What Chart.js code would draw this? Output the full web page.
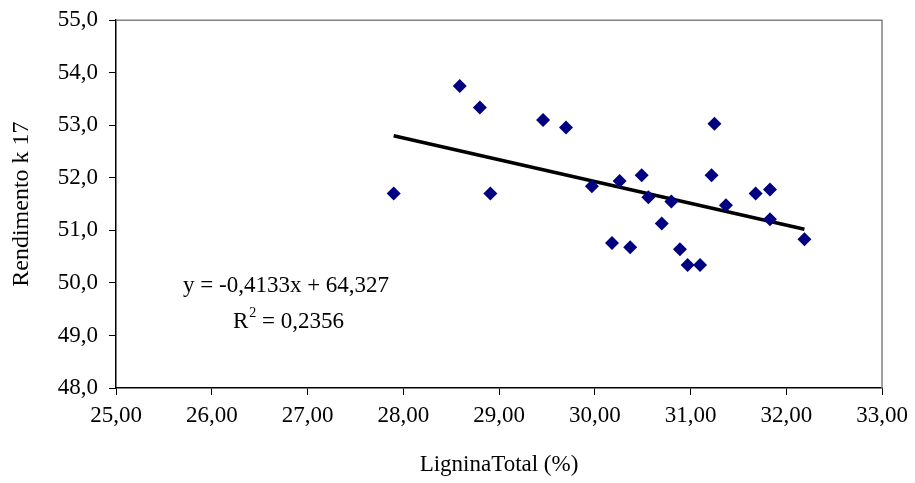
<!DOCTYPE html>
<html>
<head>
<meta charset="utf-8">
<script src="https://cdn.jsdelivr.net/npm/chart.js@4"></script>
<style>
	html, body { margin: 0; padding: 0; background: #fff; }
	#wrap { width: 915px; height: 483px; }
</style>
</head>
<body>
<div id="wrap"><canvas id="chart" width="915" height="483"></canvas></div>
<script>
// valores
const lignina = [27.90, 28.59, 28.80, 28.91, 29.46, 29.70, 29.97, 30.18, 30.26, 30.37, 30.49, 30.56,
	30.70, 30.80, 30.89, 30.97, 31.10, 31.22, 31.25, 31.37, 31.68, 31.83, 31.83, 32.19];
const rendimento = [51.70, 53.75, 53.34, 51.70, 53.10, 52.96, 51.84, 50.76, 51.94, 50.68, 52.05, 51.63,
	51.13, 51.55, 50.64, 50.34, 50.34, 52.05, 53.03, 51.48, 51.70, 51.78, 51.21, 50.83];
// linha de tendência (extremos)
const trendX = [27.90, 32.19];
const trendY = [52.80, 51.02];
const equation = 'y = -0,4133x + 64,327';
const r2 = '0,2356';

const FONT = 'Liberation Serif, Times New Roman, serif';

const points = lignina.map((x, i) => ({ x: x, y: rendimento[i] }));
const trend = trendX.map((x, i) => ({ x: x, y: trendY[i] }));

const frame = {
	id: 'frame',
	afterDraw(chart) {
		const { ctx, chartArea: a } = chart;
		ctx.save();
		ctx.strokeStyle = '#808080';
		ctx.lineWidth = 1.5;
		ctx.beginPath();
		ctx.moveTo(a.left, a.top);
		ctx.lineTo(a.right, a.top);
		ctx.lineTo(a.right, a.bottom);
		ctx.stroke();
		// equação
		ctx.fillStyle = '#000';
		ctx.font = '23px ' + FONT;
		ctx.textBaseline = 'alphabetic';
		ctx.fillText(equation, 183, 292);
		let x = 233;
		ctx.fillText('R', x, 328);
		x += ctx.measureText('R').width;
		ctx.font = '14px ' + FONT;
		ctx.fillText('2', x + 1, 317);
		x += ctx.measureText('2').width + 1;
		ctx.font = '23px ' + FONT;
		ctx.fillText(' = ' + r2, x, 328);
		ctx.restore();
	}
};

new Chart(document.getElementById('chart'), {
	type: 'scatter',
	data: {
		datasets: [
		{
			label: 'Rendimento',
			data: points,
			pointStyle: 'rectRot',
			pointRadius: 7,
			backgroundColor: '#000080',
			borderColor: '#000080',
			borderWidth: 0,
		},
		{
			type: 'line',
			label: 'Tendência',
			data: trend,
			borderColor: '#000',
			borderWidth: 3.5,
			pointRadius: 0,
			fill: false,
		},
	]
	},
	options: {
		responsive: false,
		animation: false,
		layout: { padding: { top: 18, right: 33, left: 3, bottom: 0 } },
		plugins: {
			legend: { display: false },
			tooltip: { enabled: false },
		},
		scales: {
			x: {
				type: 'linear',
				min: 25,
				max: 33,
				afterFit(s) { s.height = 95; },
				border: { color: '#000', width: 1.5 },
				grid: { drawOnChartArea: false, drawTicks: true, tickLength: 7, color: '#000' },
				ticks: {
					stepSize: 1,
					color: '#000',
					padding: 7,
					font: { family: FONT, size: 23 },
					callback: v => v.toFixed(2).replace('.', ',')
				},
				title: {
					display: true,
					text: 'LigninaTotal (%)',
					color: '#000',
					font: { family: FONT, size: 23 },
					padding: { top: 16 }
				}
			},
			y: {
				min: 48,
				max: 55,
				afterFit(s) { s.width = 113; },
				border: { color: '#000', width: 1.5 },
				grid: { drawOnChartArea: false, drawTicks: true, tickLength: 7, color: '#000' },
				ticks: {
					stepSize: 1,
					color: '#000',
					padding: 11,
					font: { family: FONT, size: 23, lineHeight: 0.8 },
					callback: v => v.toFixed(1).replace('.', ',')
				},
				title: {
					display: true,
					text: 'Rendimento k 17',
					color: '#000',
					font: { family: FONT, size: 24 },
					padding: { bottom: 0 }
				}
			}
		}
	},
	plugins: [frame]
});
</script>
</body>
</html>
